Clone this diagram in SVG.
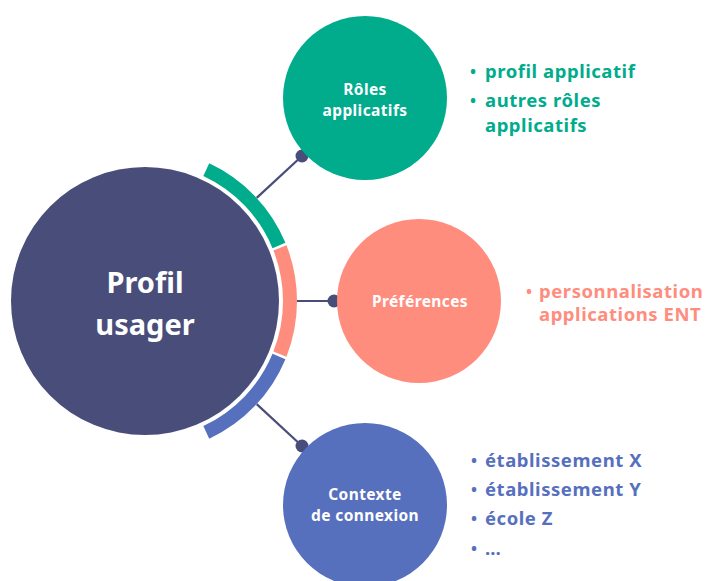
<svg xmlns="http://www.w3.org/2000/svg" width="705" height="581" viewBox="0 0 705 581">
<style>
.t{font-family:"Noto Sans","Open Sans",sans-serif;font-weight:700;font-variant-ligatures:none}
.w{fill:#ffffff;text-anchor:middle}
.n{font-size:15.5px;letter-spacing:0.4px}
.l{font-size:18.5px;letter-spacing:0.55px}
.bu{font-size:16px;letter-spacing:0}
.arc{fill:none;stroke-width:14;stroke-linecap:butt}
.con{stroke:#484d7a;stroke-width:2.2;fill:none}
.dot{fill:#484d7a}
.g{fill:#00ac8c}.s{fill:#ff8d7e}.b{fill:#5770be}
</style>
<rect width="705" height="581" fill="#ffffff"/>
<g id="connectors">
<line class="con" x1="256.7" y1="197.9" x2="302" y2="156"/>
<line class="con" x1="297" y1="301" x2="334" y2="301"/>
<line class="con" x1="256.7" y1="404.1" x2="302" y2="446"/>
<circle class="dot" cx="302" cy="156" r="6.5"/>
<circle class="dot" cx="334" cy="301" r="6.5"/>
<circle class="dot" cx="302" cy="446" r="6.5"/>
</g>
<g id="profil">
<circle cx="145" cy="301" r="134" fill="#484d7a"/>
<path class="arc" stroke="#00ac8c" d="M206.28 169.59 A145 145 0 0 1 278.96 245.51"/>
<path class="arc" stroke="#ff8d7e" d="M279.91 247.86 A145 145 0 0 1 279.91 354.14"/>
<path class="arc" stroke="#5770be" d="M278.96 356.49 A145 145 0 0 1 206.28 432.41"/>
<text class="t w" x="145" y="293" font-size="29">Profil</text>
<text class="t w" x="145" y="335" font-size="29">usager</text>
</g>
<g id="roles">
<circle cx="365" cy="98" r="82" fill="#00ac8c"/>
<text class="t w n" x="365" y="95">Rôles</text>
<text class="t w n" x="365" y="116">applicatifs</text>
</g>
<g id="preferences">
<circle cx="419" cy="301" r="82" fill="#ff8d7e"/>
<text class="t w n" x="420" y="307">Préférences</text>
</g>
<g id="contexte">
<circle cx="365" cy="505" r="82" fill="#5770be"/>
<text class="t w n" x="365" y="500">Contexte</text>
<text class="t w n" x="365" y="521">de connexion</text>
</g>
<g id="roles-list" class="t g l">
<text class="bu" x="470" y="77">•</text><text x="485" y="78">profil applicatif</text>
<text class="bu" x="470" y="106">•</text><text x="485" y="107">autres rôles</text>
<text x="485" y="132">applicatifs</text>
</g>
<g id="preferences-list" class="t s l">
<text class="bu" x="526" y="297">•</text><text x="539" y="298">personnalisation</text>
<text x="539" y="321">applications ENT</text>
</g>
<g id="contexte-list" class="t b l">
<text class="bu" x="471" y="466">•</text><text x="485" y="467">établissement X</text>
<text class="bu" x="471" y="495">•</text><text x="485" y="496">établissement Y</text>
<text class="bu" x="471" y="524">•</text><text x="485" y="525">école Z</text>
<text class="bu" x="471" y="554">•</text><text x="485" y="555">…</text>
</g>
</svg>
